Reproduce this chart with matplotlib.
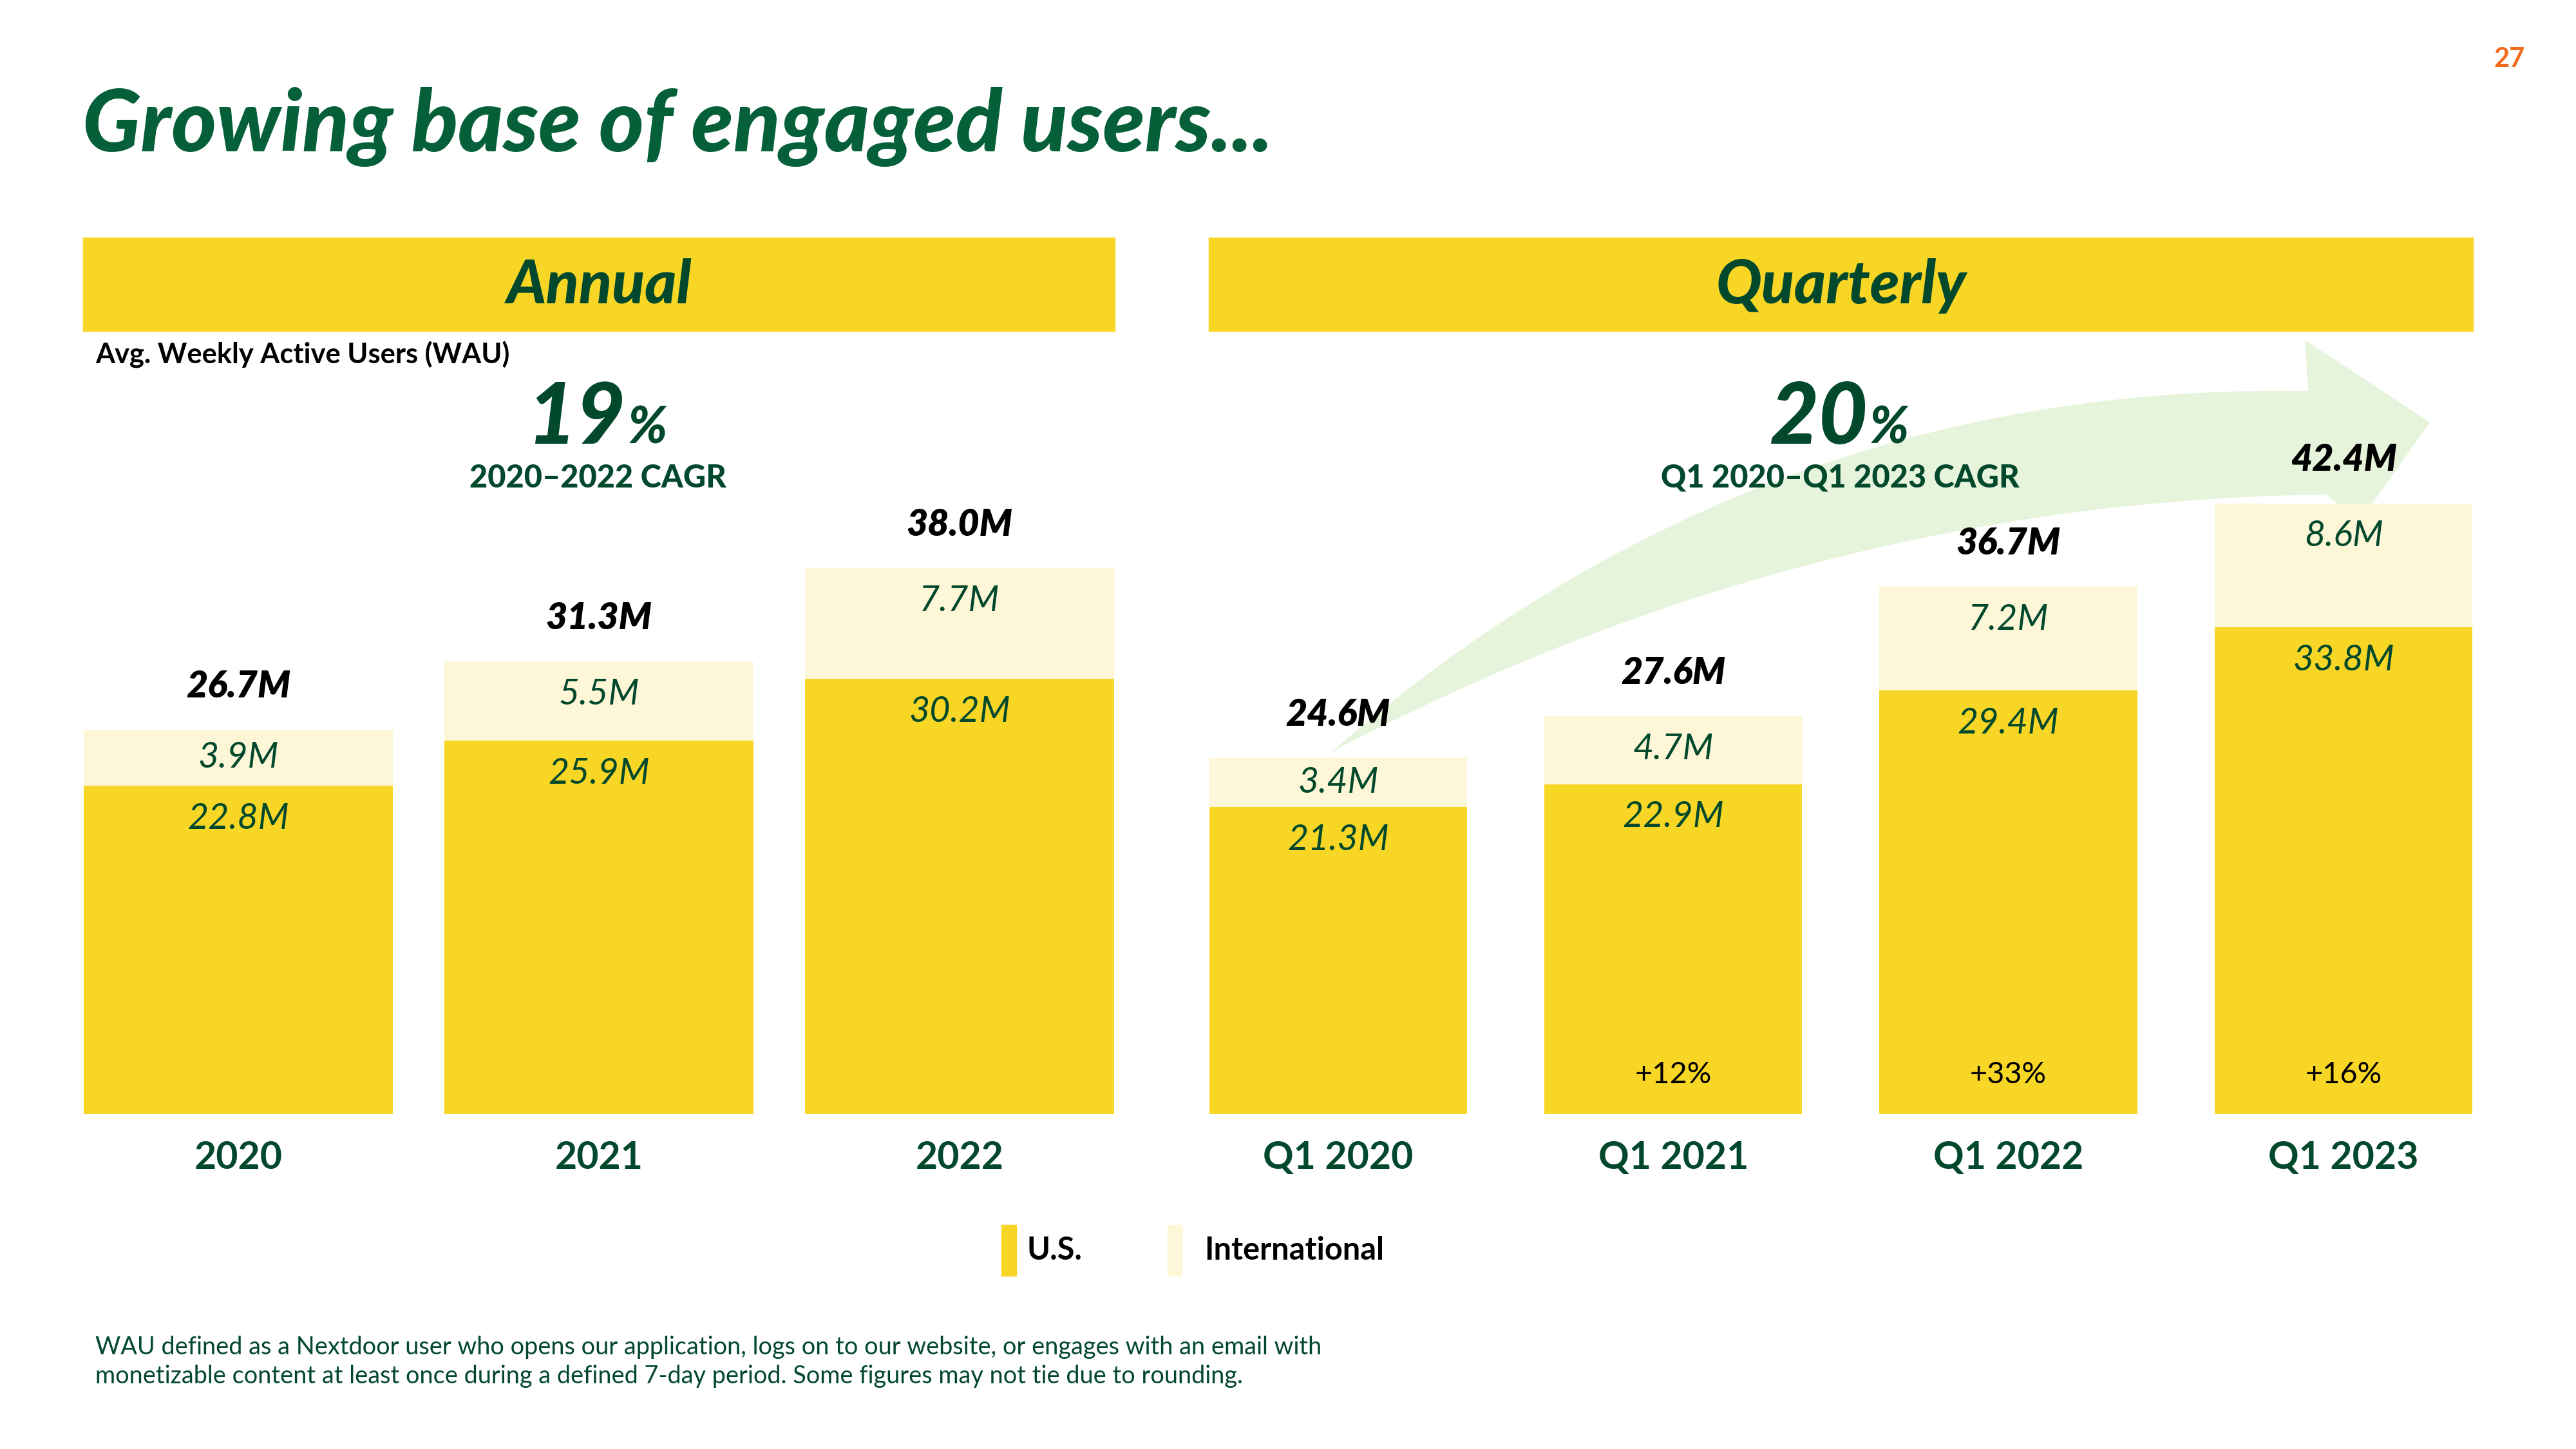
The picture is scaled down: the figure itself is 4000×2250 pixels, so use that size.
import matplotlib
matplotlib.use("Agg")
import matplotlib.pyplot as plt
from matplotlib.patches import Rectangle, PathPatch
from matplotlib.path import Path

plt.rcParams['font.family'] = ['Lato', 'DejaVu Sans']

# data (millions of weekly active users)
annual_labels = ['2020', '2021', '2022']
annual_us = [22.8, 25.9, 30.2]
annual_intl = [3.9, 5.5, 7.7]
annual_total = ['26.7M', '31.3M', '38.0M']

quarter_labels = ['Q1 2020', 'Q1 2021', 'Q1 2022', 'Q1 2023']
quarter_us = [21.3, 22.9, 29.4, 33.8]
quarter_intl = [3.4, 4.7, 7.2, 8.6]
quarter_total = ['24.6M', '27.6M', '36.7M', '42.4M']
quarter_growth = ['', '+12%', '+33%', '+16%']

YELLOW = '#F8D626'
CREAM = '#FEF7D7'
GREEN = '#02482C'
TITLE_GREEN = '#05603A'
ARROW = '#E6F4DC'

W, H = 1568.0, 882.0   # layout measured on a 1568x882 copy


def fx(x):
    return x / W


def fy(y):
    return 1 - y / H


fig = plt.figure(figsize=(16, 9), dpi=250)
fig.patch.set_facecolor('white')

# title and page number
fig.text(fx(50), fy(92), 'Growing base of engaged users...', fontsize=38.5,
         fontweight='black', style='italic', color=TITLE_GREEN, va='baseline')
fig.text(fx(1537), fy(36), '27', fontsize=12, fontweight='bold',
         color='#F26A1E', ha='right', va='center')

# section headers
for x0, x1, name in [(51, 678, 'Annual'), (736, 1505, 'Quarterly')]:
    fig.patches.append(Rectangle((fx(x0), fy(201)), fx(x1) - fx(x0), 56 / H,
                                 transform=fig.transFigure, color=YELLOW, zorder=0))
    fig.text(fx((x0 + x1) / 2), fy(174), name, fontsize=27, fontweight='black',
             style='italic', color=GREEN, ha='center', va='center')

fig.text(fx(58), fy(216), 'Avg. Weekly Active Users (WAU)', fontsize=12.5,
         fontweight='bold', color='black', va='center')

# CAGR callouts
for xc, big, sub in [(381, '19', '2020\u20132022 CAGR'), (1137, '20', 'Q1 2020\u2013Q1 2023 CAGR')]:
    fig.text(fx(xc), fy(270), big, fontsize=38, fontweight='black', style='italic',
             color=GREEN, ha='right', va='baseline')
    fig.text(fx(xc + 1), fy(270), '%', fontsize=23, fontweight='black', style='italic',
             color=GREEN, ha='left', va='baseline')
    fig.text(fx(xc - 17), fy(291), sub, fontsize=14, fontweight='black',
             color=GREEN, ha='center', va='center')

scale = 8.765            # px per million on the measured copy
base_y = 678
ax_h = 378
ymax = ax_h / scale

ax1 = fig.add_axes([fx(51), fy(base_y), (678 - 51) / W, ax_h / H])
ax2 = fig.add_axes([fx(736), fy(base_y), (1505 - 736) / W, ax_h / H])

# growth arrow behind the quarterly bars
def bez(p0, c, p1, n=30):
    pts = []
    for i in range(n + 1):
        t = i / n
        pts.append(((1 - t) ** 2 * p0[0] + 2 * t * (1 - t) * c[0] + t ** 2 * p1[0],
                    (1 - t) ** 2 * p0[1] + 2 * t * (1 - t) * c[1] + t ** 2 * p1[1]))
    return pts


tail = (810, 458)
upper = bez(tail, (1069, 232), (1405, 238))
lower = bez((1416, 301), (1100, 305), tail)
head = [(1403, 207), (1479, 257), (1436, 318)]
outline = upper + head + lower
verts = [(fx(x), fy(y)) for x, y in outline]
codes = [Path.MOVETO] + [Path.LINETO] * (len(verts) - 2) + [Path.CLOSEPOLY]
ax2.add_patch(PathPatch(Path(verts, codes), transform=fig.transFigure,
                        facecolor=ARROW, edgecolor='none', zorder=0, clip_on=False))


def draw_panel(ax, labels, us, intl, totals, width, growth=None):
    xs = list(range(len(labels)))
    ax.bar(xs, us, width=width, color=YELLOW, zorder=2)
    ax.bar(xs, intl, width=width, bottom=us, color=CREAM, zorder=2)
    for i in xs:
        top = us[i] + intl[i]
        ax.text(i, top + 3.0, totals[i], fontsize=16.5, fontweight='heavy', style='italic',
                color='black', ha='center', va='center', zorder=3)
        ax.text(i, max(us[i] + intl[i] / 2, top - 2.3), f'{intl[i]:.1f}M', fontsize=16,
                style='italic', color=GREEN, ha='center', va='center', zorder=3)
        ax.text(i, us[i] - 2.3, f'{us[i]:.1f}M', fontsize=16, style='italic',
                color=GREEN, ha='center', va='center', zorder=3)
        if growth and growth[i]:
            ax.text(i, 2.7, growth[i], fontsize=13.5, color='black',
                    ha='center', va='center', zorder=3)
    ax.set_xlim(-width / 2, len(labels) - 1 + width / 2)
    ax.set_ylim(0, ymax)
    ax.set_xticks(xs)
    ax.set_xticklabels(labels, fontsize=17, fontweight='bold', color=GREEN)
    ax.tick_params(axis='x', length=0, pad=12)
    ax.set_yticks([])
    for s in ax.spines.values():
        s.set_visible(False)
    ax.patch.set_alpha(0)


draw_panel(ax1, annual_labels, annual_us, annual_intl, annual_total, 188 / 219.5)
draw_panel(ax2, quarter_labels, quarter_us, quarter_intl, quarter_total, 157 / 204.0, quarter_growth)

# legend
for x0, col, lab, tx in [(610, YELLOW, 'U.S.', 625), (711, CREAM, 'International', 733)]:
    fig.patches.append(Rectangle((fx(x0), fy(776)), 8 / W, 30 / H,
                                 transform=fig.transFigure, color=col))
    fig.text(fx(tx), fy(761), lab, fontsize=14, fontweight='bold',
             color='black', va='center')

fig.text(fx(58), fy(829),
         'WAU defined as a Nextdoor user who opens our application, logs on to our website, or engages with an email with\n'
         'monetizable content at least once during a defined 7-day period. Some figures may not tie due to rounding.',
         fontsize=10.9, color=GREEN, va='center', linespacing=1.3)

fig.savefig('out.png', dpi=250, facecolor='white')
